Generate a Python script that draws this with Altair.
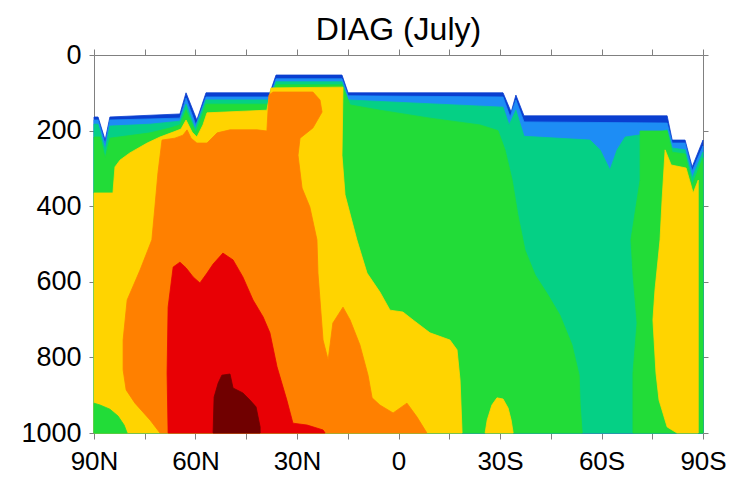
import altair as alt
import pandas as pd

# ---- contour regions: latitude (deg, + = N) and pressure (hPa) ----
DARKBLUE_LAT = [90, 88.8, 86.7, 85.3, 64.6, 62.8, 59.6, 56.9, 38.0, 36.2, 16.7, 14.9, -30.9, -33.3, -34.7, -37.1, -79.4, -80.9, -84.7, -86.8, -90, -90, 90]
DARKBLUE_P = [164, 164, 225, 164, 156, 100, 172, 100, 100, 53, 53, 100, 100, 151, 106, 161, 161, 225, 225, 296, 225, 1000, 1000]

BLUE_LAT = [90, 88.8, 86.7, 85.3, 64.6, 62.8, 59.9, 56.9, 38.0, 36.2, 16.7, 14.9, -30.9, -33.0, -34.7, -37.1, -79.4, -80.9, -84.7, -86.8, -90, -90, 90]
BLUE_P = [172, 172, 235, 172, 167, 114, 185, 111, 111, 63, 63, 108, 111, 164, 119, 177, 180, 233, 233, 307, 241, 1000, 1000]

TEAL_LAT = [90, 88.8, 86.7, 85.3, 73.4, 64.6, 62.8, 60.1, 56.9, 38.0, 36.2, 16.7, 14.9, -30.9, -32.7, -34.7, -37.1, -56.6, -59.6, -62.5, -64.6, -67.0, -77.3, -79.4, -80.9, -84.7, -86.8, -90, -90, 90]
TEAL_P = [183, 183, 251, 188, 183, 175, 130, 196, 119, 119, 71, 71, 119, 138, 185, 146, 215, 225, 251, 304, 251, 217, 204, 198, 246, 251, 325, 257, 1000, 1000]

GREEN_LAT = [90, 88.2, 86.7, 85.3, 73.4, 67.5, 64.6, 62.8, 59.9, 56.9, 38.0, 36.2, 16.7, 14.3, 5.5, -9.3, -24.1, -29.4, -31.5, -33.6, -35.3, -37.4, -40.4, -44.2, -47.7, -51.3, -53.4, -53.7, -54.3, 90]
GREEN_P = [217, 217, 272, 220, 206, 193, 185, 146, 206, 130, 130, 79, 79, 132, 146, 167, 185, 200, 251, 331, 423, 516, 582, 635, 688, 767, 847, 926, 1000, 1000]

GREEN_S_LAT = [-71.4, -79.4, -80.9, -84.7, -86.8, -90, -90, -69.3, -69.3, -70.5, -69.3, -68.7, -71.4]
GREEN_S_P = [201, 201, 257, 262, 344, 272, 1000, 1000, 841, 709, 579, 489, 331]

YELLOW_LAT = [90, 84.4, 83.8, 82.3, 79.4, 74.3, 70.5, 66.6, 64.3, 62.8, 61.0, 59.6, 57.8, 56.6, 38.9, 37.7, 16.4, 16.7, 15.8, 12.3, 9.3, 5.5, 2.5, -1.3, -4.3, -9.3, -15.2, -17.3, -18.2, -18.8, 90]
YELLOW_P = [365, 365, 296, 278, 259, 233, 217, 204, 196, 172, 204, 217, 185, 153, 146, 87, 85, 265, 370, 489, 577, 627, 675, 680, 701, 735, 754, 780, 860, 1000, 1000]

YELLOW_EQ_LAT = [-25.6, -26.2, -27.6, -29.1, -30.9, -32.4, -33.3, -33.9]
YELLOW_EQ_P = [1000, 966, 926, 907, 910, 934, 966, 1000]

YELLOW_S_LAT = [-78.8, -80.6, -85.0, -87.1, -88.6, -88.6, -82.3, -79.4, -77.0, -76.1, -75.2, -75.8, -77.3, -77.9]
YELLOW_S_P = [251, 291, 299, 365, 331, 1000, 1000, 984, 913, 841, 701, 622, 489, 384]

GREEN_N_LAT = [90, 88.2, 85.3, 82.9, 81.1, 80.2, 90]
GREEN_N_P = [921, 926, 937, 955, 979, 1000, 1000]

ORANGE_LAT = [70.5, 73.4, 77.9, 80.5, 81.4, 81.4, 80.2, 76.4, 72.9, 72.0, 71.1, 69.9, 66.1, 63.7, 62.5, 61.3, 59.6, 56.6, 53.6, 49.8, 41.8, 38.9, 38.3, 37.1, 25.3, 23.2, 22.6, 25.3, 29.1, 29.7, 28.5, 26.2, 24.1, 23.8, 22.3, 20.8, 19.4, 16.4, 14.3, 11.4, 9.0, 7.8, 5.5, 1.6, -2.5, -5.5, -8.4]
ORANGE_P = [1000, 966, 921, 886, 833, 754, 648, 569, 489, 402, 312, 225, 220, 212, 198, 220, 233, 233, 206, 198, 198, 201, 106, 98, 98, 119, 151, 193, 220, 265, 352, 402, 489, 577, 754, 807, 709, 667, 701, 767, 847, 907, 926, 947, 921, 958, 1000]

RED_LAT = [68.1, 68.4, 68.1, 66.6, 64.6, 62.8, 60.7, 58.7, 56.6, 54.8, 51.9, 48.9, 46.0, 43.0, 40.0, 38.0, 35.9, 33.0, 31.2, 27.0, 22.3, 21.7]
RED_P = [1000, 841, 667, 561, 548, 563, 587, 603, 577, 553, 524, 542, 587, 648, 693, 735, 825, 913, 974, 979, 992, 1000]

DARKRED_LAT = [54.8, 54.5, 53.3, 52.2, 49.8, 48.9, 46.0, 43.9, 42.1, 40.9, 40.9]
DARKRED_P = [1000, 905, 868, 847, 844, 881, 894, 913, 931, 984, 1000]

REGIONS = [
    ("#0a3fd0", DARKBLUE_LAT, DARKBLUE_P),
    ("#1d8df5", BLUE_LAT, BLUE_P),
    ("#05d085", TEAL_LAT, TEAL_P),
    ("#22dc38", GREEN_LAT, GREEN_P),
    ("#22dc38", GREEN_S_LAT, GREEN_S_P),
    ("#ffd400", YELLOW_LAT, YELLOW_P),
    ("#ffd400", YELLOW_EQ_LAT, YELLOW_EQ_P),
    ("#ffd400", YELLOW_S_LAT, YELLOW_S_P),
    ("#22dc38", GREEN_N_LAT, GREEN_N_P),
    ("#ff8000", ORANGE_LAT, ORANGE_P),
    ("#e80005", RED_LAT, RED_P),
    ("#700000", DARKRED_LAT, DARKRED_P),
]

X_TICKS = [90, 75, 60, 45, 30, 15, 0, -15, -30, -45, -60, -75, -90]
Y_TICKS = [0, 200, 400, 600, 800, 1000]

FONT = "Liberation Sans"
xscale = alt.Scale(domain=[-90, 90], reverse=True, nice=False, zero=False)
yscale = alt.Scale(domain=[0, 1000], reverse=True, nice=False, zero=False)

layers = []
for color, lats, ps in REGIONS:
    df = pd.DataFrame({"lat": lats, "p": ps, "i": list(range(len(lats)))})
    layers.append(
        alt.Chart(df)
        .mark_line(interpolate="linear-closed", fill=color, stroke=color, strokeWidth=0.8)
        .encode(
            x=alt.X("lat:Q", scale=xscale, axis=None),
            y=alt.Y("p:Q", scale=yscale, axis=None),
            order=alt.Order("i:Q"),
        )
    )

LBL = ("datum.value == 0 ? '0' : (datum.value % 30 != 0 ? '' : "
       "(datum.value > 0 ? datum.value + 'N' : (-datum.value) + 'S'))")

frame_df = pd.DataFrame({"lat": [90, -90], "p": [0, 1000]})
common = dict(domainColor="#808080", tickColor="#808080", grid=False, labelFont=FONT,
              labelColor="black", labelOverlap=False, labelFlush=False)
axes_bl = alt.Chart(frame_df).mark_point(opacity=0).encode(
    x=alt.X("lat:Q", scale=xscale, title=None,
            axis=alt.Axis(orient="bottom", values=X_TICKS, labelExpr=LBL, tickSize=6,
                          labelPadding=9, labelFontSize=26, **common)),
    y=alt.Y("p:Q", scale=yscale, title=None,
            axis=alt.Axis(orient="left", values=Y_TICKS, format="d", tickSize=5,
                          labelPadding=8, labelFontSize=27, **common)),
)
axes_tr = alt.Chart(frame_df).mark_point(opacity=0).encode(
    x=alt.X("lat:Q", scale=xscale, title=None,
            axis=alt.Axis(orient="top", values=X_TICKS, labels=False, tickSize=6,
                          domainColor="#808080", tickColor="#808080", grid=False)),
    y=alt.Y("p:Q", scale=yscale, title=None,
            axis=alt.Axis(orient="right", values=Y_TICKS, labels=False, tickSize=5,
                          domainColor="#808080", tickColor="#808080", grid=False)),
)

chart = (
    alt.layer(*layers, axes_bl, axes_tr)
    .resolve_axis(x="independent", y="independent")
    .properties(
        width=609, height=378,
        title=alt.Title("DIAG (July)", font=FONT, fontSize=32, fontWeight="normal",
                        color="black", anchor="middle", offset=6, dy=12),
        padding={"left": 86, "top": 47, "right": 28, "bottom": 44},
        autosize=alt.AutoSizeParams(type="none"),
    )
    .configure_view(stroke=None)
    .configure(background="white")
)

chart.save("out.html", embed_options={"renderer": "svg", "actions": False})
